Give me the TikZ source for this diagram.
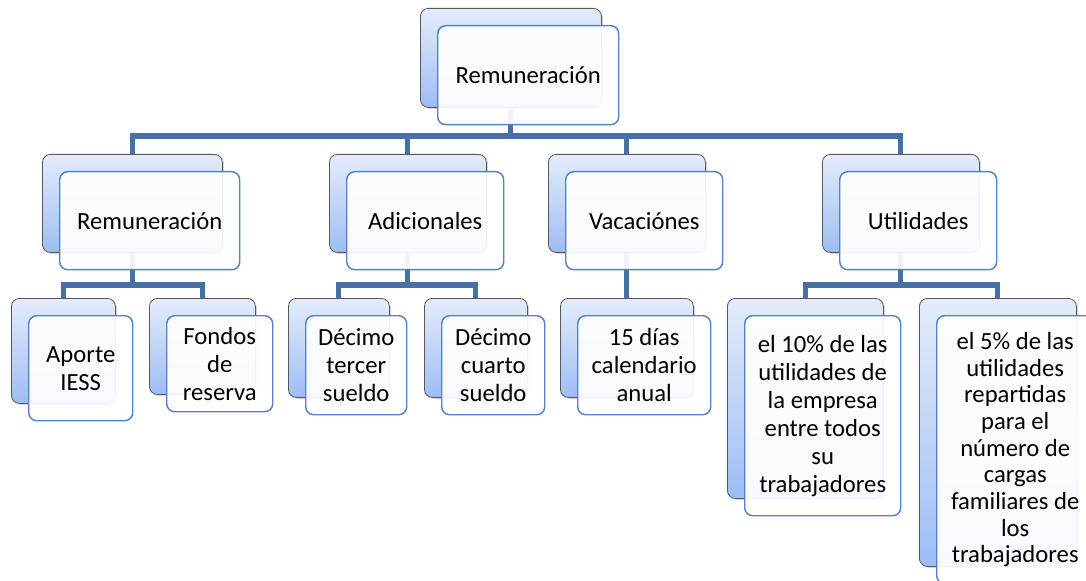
\documentclass[tikz,border=0pt]{standalone}
\usepackage{fontspec}
\setmainfont{Carlito}
\usetikzlibrary{calc,shadows,backgrounds}
\definecolor{connblue}{RGB}{71,113,166}
\definecolor{edgeblue}{RGB}{84,130,199}
\definecolor{backtop}{RGB}{228,236,250}
\definecolor{backbot}{RGB}{158,189,244}
\tikzset{
  conn/.style={line width=3.8pt, connblue},
  backbox/.style={rectangle, rounded corners=6pt, draw=black!65, line width=0.6pt,
    top color=backtop, bottom color=backbot, anchor=north west, inner sep=0pt,
    drop shadow={shadow xshift=1.2pt, shadow yshift=-1.2pt, opacity=0.35}},
  frontbox/.style={rectangle, rounded corners=6pt, draw=edgeblue, line width=1.1pt,
    fill=white, fill opacity=0.92, text opacity=1, anchor=north west, inner sep=0pt,
    align=center, font=\fontsize{18.5}{21}\selectfont},
}
% back box + front box with the text: name, x, y, width, height (px), text
\newcommand{\orgbox}[7][]{%
  \node[backbox, minimum width=#5*0.75pt, minimum height=#6*0.75pt] (#2) at (#3,#4) {};
  \node[frontbox, #1, minimum width=#5*0.75pt, minimum height=#6*0.75pt] (#2-f) at (#3+17,#4+17) {#7};
}

\begin{document}
\begin{tikzpicture}[x=0.75pt, y=-0.75pt]
  \useasboundingbox (0,0) rectangle (1086,581);
  % top
  \orgbox{remun}{420}{8}{181}{99}{Remuneración}
  % second row
  \orgbox{remb}{42}{154}{180}{98}{Remuneración}
  \orgbox{adic}{329}{154}{157}{98}{Adicionales}
  \orgbox{vaca}{548}{154}{157}{98}{Vacaciónes}
  \orgbox{util}{822}{154}{157}{98}{Utilidades}
  % third row
  \orgbox{iess}{11}{298}{104}{105}{Aporte\\IESS}
  \orgbox{fondo}{149}{298}{106}{96}{Fondos\\de\\reserva}
  \orgbox{dtercer}{288}{298}{101}{99}{Décimo\\tercer\\sueldo}
  \orgbox{dcuarto}{424}{298}{103}{99}{Décimo\\cuarto\\sueldo}
  \orgbox{dias}{560}{298}{133}{99}{15 días\\calendario\\anual}
  \orgbox{diez}{727}{298}{156}{200}{el 10\% de las\\utilidades de\\la empresa\\entre todos\\su\\trabajadores}
  \orgbox[font=\fontsize{18.5}{20}\selectfont]{cinco}{919}{298}{157}{268}{el 5\% de las\\utilidades\\repartidas\\para el\\número de\\cargas\\familiares de\\los\\trabajadores}
  % connectors
  \coordinate (lvlA) at (0,136);
  \coordinate (lvlB) at (0,285);
  \begin{scope}[on background layer]
    \foreach \c in {remb,adic,vaca,util}
      \draw[conn] (remun.center) -- (remun.center |- lvlA) -| (\c.north);
    \foreach \c in {iess,fondo}
      \draw[conn] (remb.center) -- (remb.center |- lvlB) -| (\c.north);
    \foreach \c in {dtercer,dcuarto}
      \draw[conn] (adic.center) -- (adic.center |- lvlB) -| (\c.north);
    \draw[conn] (vaca.center) -- (dias.north);
    \foreach \c in {diez,cinco}
      \draw[conn] (util.center) -- (util.center |- lvlB) -| (\c.north);
  \end{scope}
\end{tikzpicture}
\end{document}
